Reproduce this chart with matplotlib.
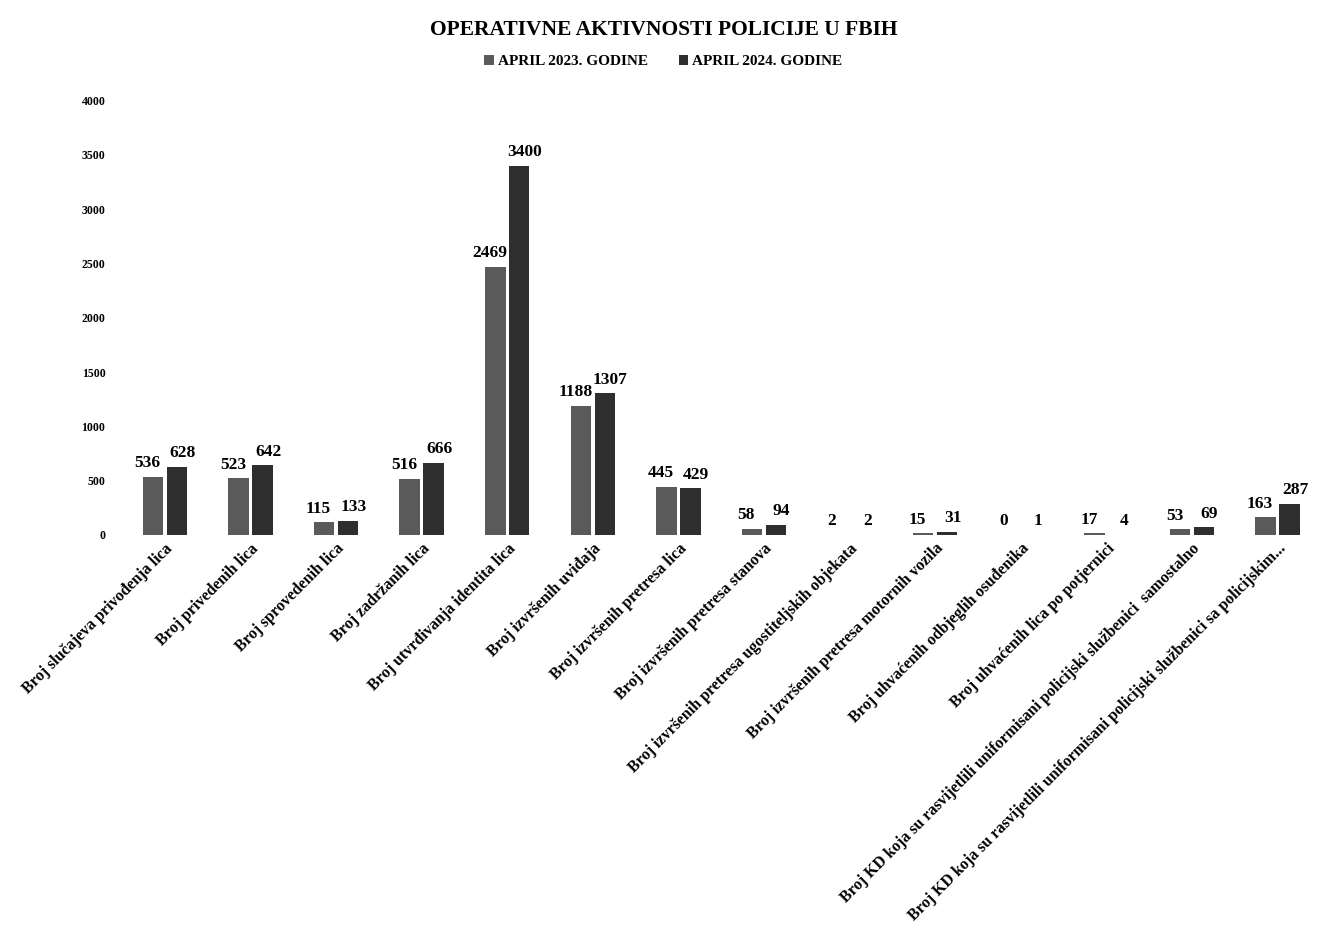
import matplotlib.pyplot as plt
import numpy as np

categories = [
    'Broj slučajeva privođenja lica',
    'Broj privedenih lica',
    'Broj sprovedenih lica',
    'Broj zadržanih lica',
    'Broj utvrđivanja identita lica',
    'Broj izvršenih uviđaja',
    'Broj izvršenih pretresa lica',
    'Broj izvršenih pretresa stanova',
    'Broj izvršenih pretresa ugostiteljskih objekata',
    'Broj izvršenih pretresa motornih vozila',
    'Broj uhvaćenih odbjeglih osuđenika',
    'Broj uhvaćenih lica po potjernici',
    'Broj KD koja su rasvijetlili uniformisani policijski službenici  samostalno',
    'Broj KD koja su rasvijetlili uniformisani policijski službenici sa policijskim...',
]
april_2023 = [536, 523, 115, 516, 2469, 1188, 445, 58, 2, 15, 0, 17, 53, 163]
april_2024 = [628, 642, 133, 666, 3400, 1307, 429, 94, 2, 31, 1, 4, 69, 287]

plt.rcParams['font.family'] = ['Liberation Serif', 'DejaVu Serif']
plt.rcParams['font.weight'] = 'bold'

fig = plt.figure(figsize=(13.27, 9.32), dpi=100)
ax = fig.add_axes([0.092, 0.426, 0.903, 0.466])

x = np.arange(len(categories))
w = 0.24
c23 = '#5a5a5a'
c24 = '#2e2e2e'
b1 = ax.bar(x - 0.14, april_2023, w, color=c23, label='APRIL 2023. GODINE')
b2 = ax.bar(x + 0.14, april_2024, w, color=c24, label='APRIL 2024. GODINE')

for rects, vals, dx in [(b1, april_2023, -4), (b2, april_2024, 4)]:
    for r, v in zip(rects, vals):
        ax.annotate(str(v), (r.get_x() + r.get_width() / 2, v), xytext=(dx, 4),
                    textcoords='offset points', ha='center', va='bottom',
                    fontsize=12.5, fontweight='bold')

ax.set_ylim(0, 4000)
ax.set_xlim(-0.5, len(categories) - 0.5)
ax.set_yticks(range(0, 4001, 500))
ax.tick_params(axis='y', length=0, labelsize=8.5, pad=12)
ax.tick_params(axis='x', length=0, pad=4)
ax.set_xticks(x)
ax.set_xticklabels(categories, rotation=45, ha='right', rotation_mode='anchor', fontsize=11.5,
                   fontweight='bold')
for s in ax.spines.values():
    s.set_visible(False)

fig.text(0.5, 0.968, 'OPERATIVNE AKTIVNOSTI POLICIJE U FBIH', ha='center', va='center',
         fontsize=15.5, fontweight='bold')
fig.legend(loc='center', bbox_to_anchor=(0.5, 0.934), ncol=2, frameon=False, fontsize=11,
           handlelength=0.6, handleheight=0.6, handletextpad=0.3, columnspacing=2)

fig.savefig('out.png', dpi=100)
